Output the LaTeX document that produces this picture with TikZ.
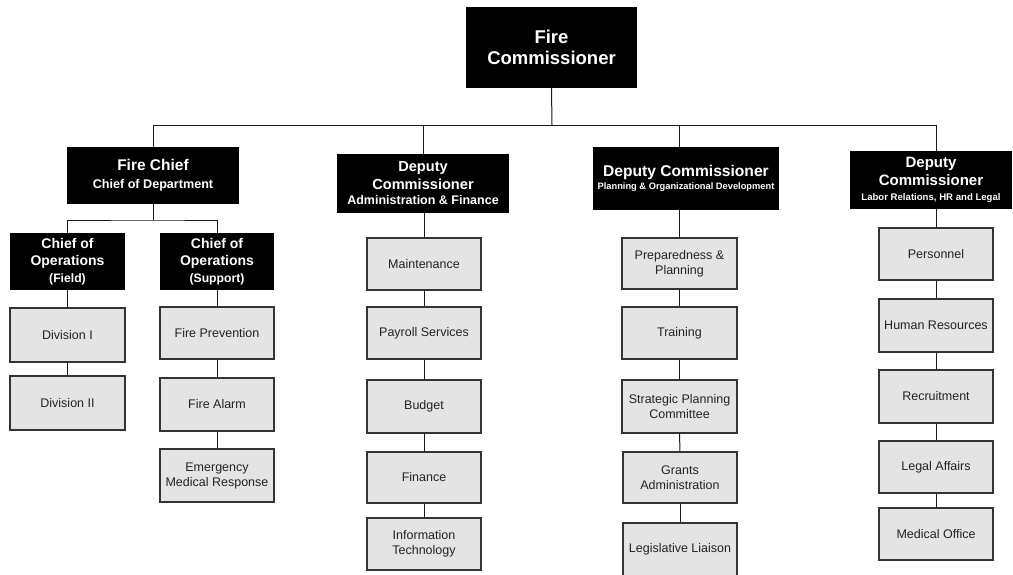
\documentclass[tikz,border=0pt]{standalone}
\usepackage{fontspec}
\setmainfont{Liberation Sans}
\definecolor{boxgray}{HTML}{E4E4E4}
\definecolor{edgegray}{HTML}{333333}
\definecolor{txtgray}{HTML}{222222}
\definecolor{linegray}{HTML}{1A1A1A}
\tikzset{
  blackbox/.style={fill=black, text=white, font=\bfseries, align=center, inner sep=0pt},
  graybox/.style={fill=boxgray, draw=edgegray, line width=1.1pt, align=center, text=txtgray,
    inner sep=0pt, minimum width=114pt, minimum height=52pt, font=\fontsize{12.5}{15}\selectfont},
  link/.style={draw=linegray, line width=1pt}
}
\begin{document}
\begin{tikzpicture}[x=1pt,y=-1pt]
\useasboundingbox (0,0) rectangle (1013,574);
\clip (0,0) rectangle (1013,574);

% black header boxes
\node[blackbox, minimum width=171pt, minimum height=81pt, font=\bfseries\fontsize{18.5}{21}\selectfont] (fc) at (551.5,47.5) {Fire\\Commissioner};
\node[blackbox, minimum width=172pt, minimum height=57pt, font=\bfseries\fontsize{15.5}{18.3}\selectfont] (chief) at (153,175.5) {Fire Chief\\{\fontsize{12.6}{15}\selectfont Chief of Department}};
\node[blackbox, minimum width=115pt, minimum height=57pt, font=\bfseries\fontsize{14}{17}\selectfont] (cof) at (67.5,261.5) {Chief of\\Operations\\{\fontsize{12.2}{15}\selectfont (Field)}};
\node[blackbox, minimum width=114pt, minimum height=57pt, font=\bfseries\fontsize{14}{17}\selectfont] (cos) at (217,261.5) {Chief of\\Operations\\{\fontsize{12.2}{15}\selectfont (Support)}};
\node[blackbox, minimum width=172pt, minimum height=59pt, font=\bfseries\fontsize{14.6}{17.5}\selectfont] (dca) at (423,183.5) {Deputy\\Commissioner\\[-2pt]{\fontsize{12.5}{15}\selectfont Administration \& Finance}};
\node[blackbox, minimum width=186pt, minimum height=63pt, font=\bfseries\fontsize{15.6}{13.5}\selectfont] (dcp) at (686,178.5) {Deputy Commissioner\\{\fontsize{9.3}{11}\selectfont Planning \& Organizational Development}};
\node[blackbox, minimum width=162pt, minimum height=58pt, font=\bfseries\fontsize{15}{18}\selectfont] (dcl) at (931,180) {Deputy\\Commissioner\\[-3pt]{\fontsize{9.6}{11}\selectfont Labor Relations, HR and Legal}};

% gray boxes: fire chief branch
\node[graybox, minimum width=115pt, minimum height=54pt] (div1) at (67.5,335) {Division I};
\node[graybox, minimum width=115pt, minimum height=54pt] (div2) at (67.5,403) {Division II};
\node[graybox] (fprev) at (217,333) {Fire Prevention};
\node[graybox, minimum height=53pt] (falarm) at (217,404.5) {Fire Alarm};
\node[graybox, minimum height=53pt] (emr) at (217,475.5) {Emergency\\Medical Response};

% administration & finance
\node[graybox] (maint) at (424,264) {Maintenance};
\node[graybox] (payroll) at (424,333) {Payroll Services};
\node[graybox, minimum height=53pt] (budget) at (424,406.5) {Budget};
\node[graybox, minimum height=51pt] (finance) at (424,477.5) {Finance};
\node[graybox] (it) at (424,544) {Information\\Technology};

% planning
\node[graybox, minimum width=115pt, minimum height=51pt] (prep) at (679.5,263.5) {Preparedness \&\\Planning};
\node[graybox, minimum width=115pt] (training) at (679.5,333) {Training};
\node[graybox, minimum width=115pt, minimum height=53pt] (strat) at (679.5,406.5) {Strategic Planning\\Committee};
\node[graybox, minimum height=51pt] (grants) at (680,477.5) {Grants\\Administration};
\node[graybox, minimum height=53pt] (legis) at (680,549.5) {Legislative Liaison};

% labor relations
\node[graybox] (pers) at (936,254) {Personnel};
\node[graybox, minimum height=53pt] (hr) at (936,325.5) {Human Resources};
\node[graybox, minimum height=53pt] (recr) at (936,396.5) {Recruitment};
\node[graybox] (legal) at (936,467) {Legal Affairs};
\node[graybox] (medical) at (936,534) {Medical Office};

% connectors
\coordinate (bus) at (552,125);
\coordinate (sub) at (153,220);
\draw[link] (fc.south) -- (bus);
\draw[link] (chief.north) -- (chief.north |- bus) -- (pers.north |- bus) -- (pers.north |- dcl.north);
\draw[link] (dca.north) -- (dca.north |- bus);
\draw[link] (prep.north |- dcp.north) -- (prep.north |- bus);

\draw[link] (chief.south) -- (sub);
\draw[link] (cof.north) |- (sub) -| (cos.north);
\draw[link] (cof.south) -- (div1.north);
\draw[link] (div1.south) -- (div2.north);
\draw[link] (cos.south) -- (fprev.north);
\draw[link] (fprev.south) -- (falarm.north);
\draw[link] (falarm.south) -- (emr.north);

\draw[link] (maint.north |- dca.south) -- (maint.north);
\draw[link] (maint.south) -- (payroll.north);
\draw[link] (payroll.south) -- (budget.north);
\draw[link] (budget.south) -- (finance.north);
\draw[link] (finance.south) -- (it.north);

\draw[link] (prep.north |- dcp.south) -- (prep.north);
\draw[link] (prep.south) -- (training.north);
\draw[link] (training.south) -- (strat.north);
\draw[link] (strat.south) -- (grants.north);
\draw[link] (grants.south) -- (legis.north);

\draw[link] (pers.north |- dcl.south) -- (pers.north);
\draw[link] (pers.south) -- (hr.north);
\draw[link] (hr.south) -- (recr.north);
\draw[link] (recr.south) -- (legal.north);
\draw[link] (legal.south) -- (medical.north);
\end{tikzpicture}
\end{document}
